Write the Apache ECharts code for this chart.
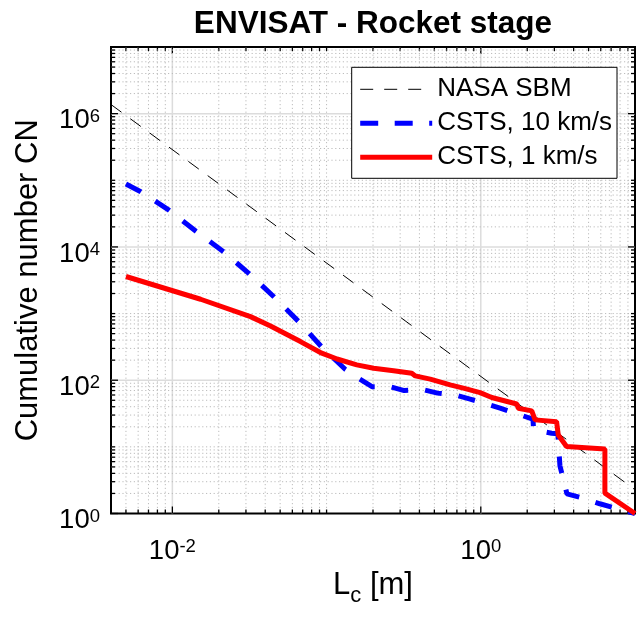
<!DOCTYPE html>
<html>
<head>
<meta charset="utf-8">
<script src="https://cdn.jsdelivr.net/npm/echarts@6/dist/echarts.min.js"></script>
<style>html,body{margin:0;padding:0;background:#fff}#c{width:640px;height:617px}</style>
</head>
<body>
<div id="c"></div>
<script>
// ---- data ----
const titleText = 'ENVISAT - Rocket stage';
const seriesNames = ['NASA SBM', 'CSTS, 10 km/s', 'CSTS, 1 km/s'];

const nasaLc = [0.004, 10];
const nasaCN = [1.37e6, 2.27];

const csts10Lc = [0.005, 0.00624, 0.0095, 0.01416, 0.0216, 0.0313, 0.0455, 0.066, 0.0925, 0.132, 0.161, 0.197, 0.259, 0.319, 0.425, 0.524, 0.682, 0.853, 1.066, 1.334, 1.667, 2.08, 2.18, 2.2, 2.88, 3.16, 3.26, 3.62, 4.61, 5.92, 10];
const csts10CN = [88000, 67300, 35700, 17300, 8390, 4020, 1790, 756, 319, 146, 107, 80, 80, 70, 72, 64, 60, 52, 45, 38, 32, 27, 26, 18, 16, 15.7, 5.2, 1.97, 1.70, 1.40, 1.0];

const csts1Lc = [0.005, 0.01525, 0.0321, 0.0433, 0.0677, 0.0912, 0.117, 0.157, 0.202, 0.272, 0.357, 0.376, 0.47, 0.633, 0.771, 0.99, 1.178, 1.71, 1.75, 2.14, 2.25, 3.10, 3.18, 3.60, 6.38, 6.38, 10];
const csts1CN = [3600, 1640, 900, 650, 380, 260, 208, 170, 151, 139, 127, 116, 104, 85, 76, 65, 55, 44, 38, 34.7, 25.4, 23.9, 15.1, 10.1, 9.3, 2.02, 1.0];

const xMin = 0.004, xMax = 10, yMin = 1, yMax = 1e7;
const xTickValues = [0.01, 1];          // labelled: 10^-2, 10^0
const yTickValues = [1, 100, 1e4, 1e6]; // labelled: 10^0 .. 10^6

// ---- helpers ----
const FF = '"Liberation Sans", Arial, Helvetica, sans-serif';
function zip(a, b) { return a.map((v, i) => [v, b[i]]); }
function isTick(v, list) { return list.some(t => Math.abs(Math.log10(v) - Math.log10(t)) < 1e-6); }
function powLabel(v) {
  const e = Math.round(Math.log10(v));
  return '{b|10}{s|' + e + '}';
}
function minorList(lo, hi, majors) {
  const out = [];
  for (let e = -4; e <= 8; e++) {
    for (let k = 1; k <= 9; k++) {
      const v = +(k * Math.pow(10, e)).toPrecision(6);
      if (v > lo * 1.0001 && v < hi * 0.9999 && !isTick(v, majors)) out.push(v);
    }
  }
  return out;
}
const gridData = [];
minorList(xMin, xMax, xTickValues).forEach(v => gridData.push([v, yMin, 0]));
xTickValues.forEach(v => gridData.push([v, yMin, 1]));
minorList(yMin, yMax, yTickValues).forEach(v => gridData.push([xMin, v, 2]));
yTickValues.filter(v => v > yMin && v < yMax).forEach(v => gridData.push([xMin, v, 3]));
yTickValues.filter(v => v === yMin).forEach(v => gridData.push([xMin, v, 4]));

const tickRich = {
  b: { fontSize: 27.5, lineHeight: 27, fontFamily: FF, color: '#000' },
  s: { fontSize: 18.5, lineHeight: 8, verticalAlign: 'top', fontFamily: FF, color: '#000' }
};

const chart = echarts.init(document.getElementById('c'), null, { renderer: 'canvas' });
chart.setOption({
  animation: false,
  backgroundColor: '#fff',
  title: {
    text: titleText, left: 373, top: 9, textAlign: 'center', padding: 0,
    textStyle: { fontSize: 31.5, fontWeight: 'bold', fontFamily: FF, color: '#000', lineHeight: 31 }
  },
  grid: {
    left: 111, top: 47, right: 5, bottom: 103.3,
    show: true, borderColor: '#000', borderWidth: 2, backgroundColor: 'transparent'
  },
  legend: {
    orient: 'vertical', left: 351.7, top: 67.3,
    itemWidth: 72, itemHeight: 1, itemGap: 8,
    padding: [9, 5, 8, 6],
    backgroundColor: '#fff', borderColor: '#000', borderWidth: 1, borderRadius: 0,
    itemStyle: { opacity: 0 },
    textStyle: { fontSize: 26, fontFamily: FF, color: '#000', lineHeight: 25 },
    data: [
      { name: seriesNames[0], lineStyle: { width: 1, type: [13, 11], color: '#000' } },
      { name: seriesNames[1], lineStyle: { width: 5, type: [18, 16.5], color: '#0000ff' } },
      { name: seriesNames[2], lineStyle: { width: 5, type: 'solid', color: '#ff0000' } }
    ],
    selectedMode: false
  },
  xAxis: {
    type: 'log', logBase: 10, min: xMin, max: xMax,
    name: '{n|L}{c|c}{n| [m]}', nameLocation: 'middle', nameGap: 62,
    nameTextStyle: {
      rich: {
        n: { fontSize: 31, lineHeight: 31, padding: [0, 0, 11, 0], fontFamily: FF, color: '#000' },
        c: { fontSize: 22, lineHeight: 12, verticalAlign: 'bottom', fontFamily: FF, color: '#000' }
      }
    },
    axisLine: { show: false }, axisTick: { show: false }, splitLine: { show: false }, minorTick: { show: false },
    axisLabel: {
      margin: 24, showMinLabel: true, showMaxLabel: true, hideOverlap: false,
      formatter: v => isTick(v, xTickValues) ? powLabel(v) : '',
      rich: tickRich
    }
  },
  yAxis: {
    type: 'log', logBase: 10, min: yMin, max: yMax,
    name: 'Cumulative number CN', nameLocation: 'middle', nameGap: 67, nameRotate: 90,
    nameTextStyle: { fontSize: 31, lineHeight: 31, fontFamily: FF, color: '#000' },
    axisLine: { show: false }, axisTick: { show: false }, splitLine: { show: false }, minorTick: { show: false },
    axisLabel: {
      margin: 11, padding: [14, 0, 0, 0], showMinLabel: true, showMaxLabel: true, hideOverlap: false,
      formatter: v => isTick(v, yTickValues) ? powLabel(v) : '',
      rich: tickRich
    }
  },
  series: [
    {
      type: 'custom', coordinateSystem: 'cartesian2d', silent: true, z: 1, clip: false,
      data: gridData,
      renderItem: function (params, api) {
        const cs = params.coordSys;
        const kind = api.value(2);
        const children = [];
        const minorGrid = { stroke: '#bcbcbc', lineWidth: 1, lineDash: [1.2, 2.6] };
        const majorGrid = { stroke: '#dcdcdc', lineWidth: 1.5 };
        const tickStyle = { stroke: '#000', lineWidth: 1.3 };
        if (kind === 0 || kind === 1) {
          const x = api.coord([api.value(0), yMin])[0];
          const len = kind === 1 ? 7 : 4;
          children.push({ type: 'line', shape: { x1: x, y1: cs.y, x2: x, y2: cs.y + cs.height }, style: kind === 1 ? majorGrid : minorGrid });
          children.push({ type: 'line', shape: { x1: x, y1: cs.y + cs.height, x2: x, y2: cs.y + cs.height - len }, style: tickStyle });
          children.push({ type: 'line', shape: { x1: x, y1: cs.y, x2: x, y2: cs.y + len }, style: tickStyle });
        } else {
          const y = api.coord([xMin, api.value(1)])[1];
          const len = kind >= 3 ? 7 : 4;
          if (kind !== 4) children.push({ type: 'line', shape: { x1: cs.x, y1: y, x2: cs.x + cs.width, y2: y }, style: kind === 3 ? majorGrid : minorGrid });
          children.push({ type: 'line', shape: { x1: cs.x, y1: y, x2: cs.x + len, y2: y }, style: tickStyle });
          children.push({ type: 'line', shape: { x1: cs.x + cs.width, y1: y, x2: cs.x + cs.width - len, y2: y }, style: tickStyle });
        }
        return { type: 'group', children: children };
      }
    },
    {
      name: seriesNames[0], type: 'line', data: zip(nasaLc, nasaCN), z: 3,
      symbol: 'none', showSymbol: false,
      lineStyle: { color: '#000', width: 1, type: [13, 11] }, itemStyle: { color: '#000' }
    },
    {
      name: seriesNames[1], type: 'line', data: zip(csts10Lc, csts10CN), z: 4,
      symbol: 'none', showSymbol: false,
      lineStyle: { color: '#0000ff', width: 5, type: [17, 17], cap: 'butt' }, itemStyle: { color: '#0000ff' }
    },
    {
      name: seriesNames[2], type: 'line', data: zip(csts1Lc, csts1CN), z: 5,
      symbol: 'none', showSymbol: false,
      lineStyle: { color: '#ff0000', width: 5, type: 'solid' }, itemStyle: { color: '#ff0000' }
    }
  ]
});
</script>
</body>
</html>
